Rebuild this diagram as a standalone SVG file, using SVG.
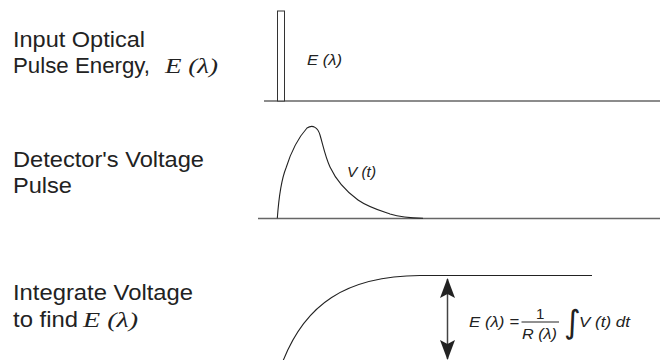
<svg xmlns="http://www.w3.org/2000/svg" width="662" height="360" viewBox="0 0 662 360">
<style>
.lbl{font-family:"Liberation Sans",Arial,sans-serif;font-size:22px;fill:#222}
.math{font-family:"Liberation Serif","Times New Roman",serif;font-style:italic;font-size:22px;fill:#222}
.it{font-family:"Liberation Sans",Arial,sans-serif;font-style:italic;fill:#222}
.axis{stroke:#666;stroke-width:1.3;fill:none}
.curve{stroke:#222;stroke-width:1.1;fill:none}
</style>
<defs>
<marker id="ah" viewBox="0 0 20 16" markerWidth="20" markerHeight="16" refX="19" refY="8" orient="auto-start-reverse" markerUnits="userSpaceOnUse">
<path d="M20,8 L0,0.5 L4,8 L0,15.5 Z" fill="#222"/>
</marker>
</defs>
<g id="label-input">
<text class="lbl" x="13" y="47" textLength="132" lengthAdjust="spacingAndGlyphs">Input Optical</text>
<text class="lbl" x="13" y="73" textLength="137" lengthAdjust="spacingAndGlyphs">Pulse Energy,</text>
<text class="math" x="165" y="73" textLength="53" lengthAdjust="spacingAndGlyphs">E (λ)</text>
</g>
<g id="label-detector">
<text class="lbl" x="13" y="167" textLength="191" lengthAdjust="spacingAndGlyphs">Detector's Voltage</text>
<text class="lbl" x="13" y="193" textLength="59" lengthAdjust="spacingAndGlyphs">Pulse</text>
</g>
<g id="label-integrate">
<text class="lbl" x="13" y="300" textLength="180" lengthAdjust="spacingAndGlyphs">Integrate Voltage</text>
<text class="lbl" x="13" y="327" textLength="65" lengthAdjust="spacingAndGlyphs">to find</text>
<text class="math" x="83" y="327" textLength="55" lengthAdjust="spacingAndGlyphs">E (λ)</text>
</g>
<g id="graph-input">
<line class="axis" x1="264" y1="101" x2="660" y2="101"/>
<rect x="277.5" y="11" width="7" height="90" fill="#fff" stroke="#333" stroke-width="1"/>
<text class="it" x="307" y="65" font-size="15" textLength="35" lengthAdjust="spacingAndGlyphs">E (λ)</text>
</g>
<g id="graph-detector">
<line class="axis" x1="258" y1="218.5" x2="660" y2="218.5"/>
<path class="curve" d="M277.3,218.3 C279,195 282,178 286,168 C291,152 298,138 307,128 C313,124 318,128 320,135 C323,145 325,156 330,167 C337,182 347,192 358,200 C368,207 378,210 390,214 C400,217 410,218 423,218.3"/>
<text class="it" x="347" y="177" font-size="15" textLength="29" lengthAdjust="spacingAndGlyphs">V (t)</text>
</g>
<g id="graph-integrate">
<path class="curve" d="M283,361 C305,305 345,276 420,275.5 L592,275.5"/>
<text class="it" x="469" y="327" font-size="15" textLength="50" lengthAdjust="spacingAndGlyphs">E (λ) =</text>
<text x="536" y="319" font-family="'Liberation Sans',Arial,sans-serif" font-size="15" fill="#222">1</text>
<line x1="521.5" y1="322" x2="559" y2="322" stroke="#222" stroke-width="1"/>
<text class="it" x="522" y="338.5" font-size="15" textLength="35" lengthAdjust="spacingAndGlyphs">R (λ)</text>
<text x="564" y="333" font-family="'DejaVu Sans',sans-serif" font-size="32" fill="#222">∫</text>
<text class="it" x="579" y="327" font-size="15" textLength="51" lengthAdjust="spacingAndGlyphs">V (t) dt</text>
</g>
<g id="connectors">
<line x1="447.5" y1="279" x2="447.5" y2="359" stroke="#444" stroke-width="1.5" marker-start="url(#ah)" marker-end="url(#ah)"/>
</g>
</svg>
